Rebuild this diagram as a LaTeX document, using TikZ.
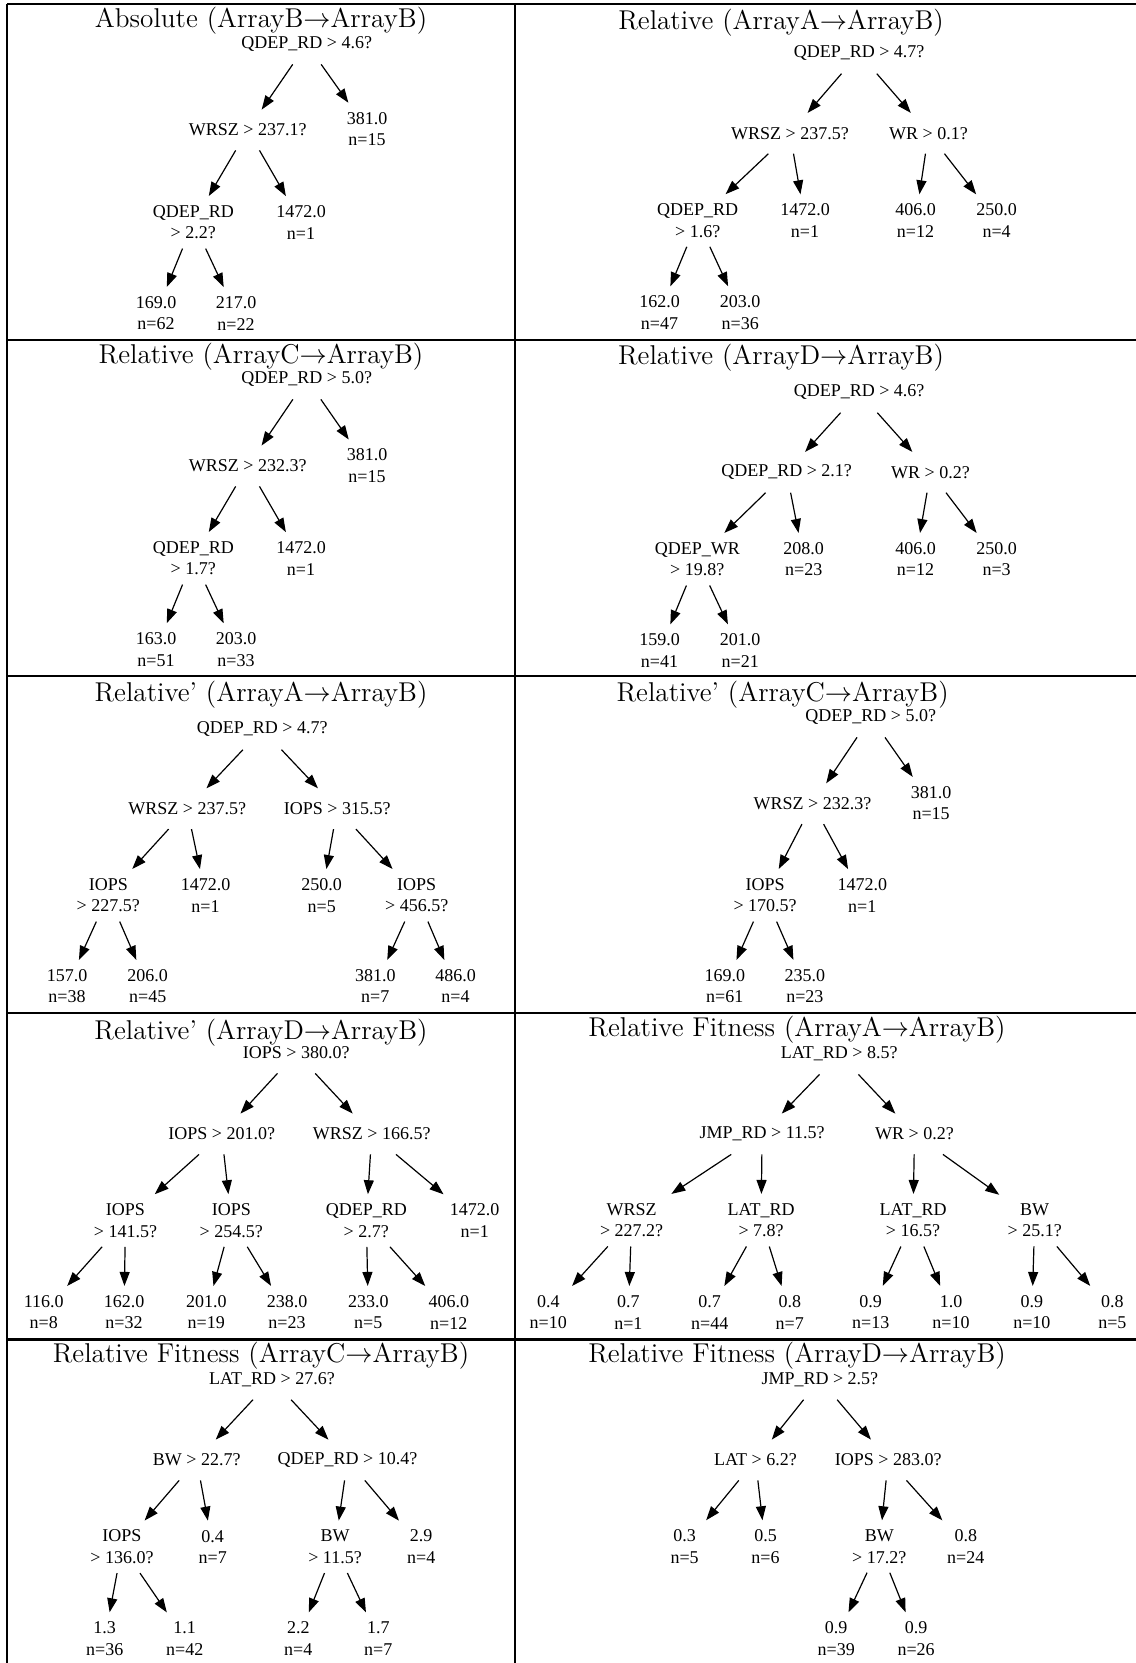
\RequirePackage{fix-cm}
\documentclass[tikz,border=0pt]{standalone}
\usepackage{fontspec}
\usetikzlibrary{arrows.meta}
\newfontfamily\treefont{Liberation Serif}

\tikzset{
  grid/.style={line width=1.1pt},
  ttl/.style={anchor=base, inner sep=0pt, font=\fontsize{13.6}{15.5}\selectfont},
  tn/.style={align=center, inner xsep=4pt, inner ysep=4.5pt, minimum height=20pt,
             font=\treefont\fontsize{9}{10.8}\selectfont},
  link/.style={-{Triangle[length=7pt,width=5pt]}, line width=0.6pt}
}

\begin{document}
\begin{tikzpicture}[x=0.5pt, y=-0.5pt]
\useasboundingbox (0,0) rectangle (1135,1663);

% table rules
\draw[grid] (6.8,4.2) -- (1136,4.2);
\draw[grid] (6.8,340) -- (1136,340);
\draw[grid] (6.8,676) -- (1136,676);
\draw[grid] (6.8,1013) -- (1136,1013);
\draw[grid] (6.8,1339.5) -- (1136,1339.5);
\draw[grid] (6.8,3.6) -- (6.8,1664);
\draw[grid] (514.6,3.6) -- (514.6,1664);

% ---- Absolute (ArrayB -> ArrayB)
\node[ttl] (t1) at (261,27.5) {Absolute (ArrayB$\rightarrow$ArrayB)};
\node[tn] (a0) at (306.7,44) {QDEP\_RD > 4.6?};
\node[tn] (a1) at (247.7,130) {WRSZ > 237.1?};
\node[tn] (a2) at (367,129) {381.0\\n=15};
\node[tn] (a3) at (193.3,222.3) {QDEP\_RD\\> 2.2?};
\node[tn] (a4) at (301,222.3) {1472.0\\n=1};
\node[tn] (a5) at (156,313.3) {169.0\\n=62};
\node[tn] (a6) at (236,313.3) {217.0\\n=22};
\foreach \p/\c in {a0/a1,a0/a2,a1/a3,a1/a4,a3/a5,a3/a6} \draw[link] (\p) -- (\c);

% ---- Relative (ArrayA -> ArrayB)
\node[ttl] (t2) at (781,30) {Relative (ArrayA$\rightarrow$ArrayB)};
\node[tn] (b0) at (859.1,53.3) {QDEP\_RD > 4.7?};
\node[tn] (b1) at (790,133.3) {WRSZ > 237.5?};
\node[tn] (b2) at (928.5,133.3) {WR > 0.1?};
\node[tn] (b3) at (697.7,220.5) {QDEP\_RD\\> 1.6?};
\node[tn] (b4) at (805,220.5) {1472.0\\n=1};
\node[tn] (b5) at (915.5,220.5) {406.0\\n=12};
\node[tn] (b6) at (996.6,220.5) {250.0\\n=4};
\node[tn] (b7) at (659.5,312.5) {162.0\\n=47};
\node[tn] (b8) at (740.2,312.5) {203.0\\n=36};
\foreach \p/\c in {b0/b1,b0/b2,b1/b3,b1/b4,b2/b5,b2/b6,b3/b7,b3/b8} \draw[link] (\p) -- (\c);

% ---- Relative (ArrayC -> ArrayB)
\node[ttl] (t3) at (261,363.3) {Relative (ArrayC$\rightarrow$ArrayB)};
\node[tn] (c0) at (306.7,379) {QDEP\_RD > 5.0?};
\node[tn] (c1) at (247.7,466) {WRSZ > 232.3?};
\node[tn] (c2) at (367,465.8) {381.0\\n=15};
\node[tn] (c3) at (193.3,558.3) {QDEP\_RD\\> 1.7?};
\node[tn] (c4) at (301,558.3) {1472.0\\n=1};
\node[tn] (c5) at (156,649.5) {163.0\\n=51};
\node[tn] (c6) at (236,649.5) {203.0\\n=33};
\foreach \p/\c in {c0/c1,c0/c2,c1/c3,c1/c4,c3/c5,c3/c6} \draw[link] (\p) -- (\c);

% ---- Relative (ArrayD -> ArrayB)
\node[ttl] (t4) at (781,364.3) {Relative (ArrayD$\rightarrow$ArrayB)};
\node[tn] (d0) at (859.1,392.3) {QDEP\_RD > 4.6?};
\node[tn] (d1) at (786.6,472.3) {QDEP\_RD > 2.1?};
\node[tn] (d2) at (930.5,472.3) {WR > 0.2?};
\node[tn] (d3) at (697.3,559.2) {QDEP\_WR\\> 19.8?};
\node[tn] (d4) at (803.7,559.2) {208.0\\n=23};
\node[tn] (d5) at (915.5,559.2) {406.0\\n=12};
\node[tn] (d6) at (996.6,559.2) {250.0\\n=3};
\node[tn] (d7) at (659.5,650.5) {159.0\\n=41};
\node[tn] (d8) at (740.2,650.5) {201.0\\n=21};
\foreach \p/\c in {d0/d1,d0/d2,d1/d3,d1/d4,d2/d5,d2/d6,d3/d7,d3/d8} \draw[link] (\p) -- (\c);

% ---- Relative' (ArrayA -> ArrayB)
\node[ttl] (t5) at (261,701.3) {Relative' (ArrayA$\rightarrow$ArrayB)};
\node[tn] (e0) at (262.2,729.3) {QDEP\_RD > 4.7?};
\node[tn] (e1) at (187.2,808.7) {WRSZ > 237.5?};
\node[tn] (e2) at (337.2,808.7) {IOPS > 315.5?};
\node[tn] (e3) at (108.3,895.3) {IOPS\\> 227.5?};
\node[tn] (e4) at (205.5,895.3) {1472.0\\n=1};
\node[tn] (e5) at (321.7,895.3) {250.0\\n=5};
\node[tn] (e6) at (416.7,895.3) {IOPS\\> 456.5?};
\node[tn] (e7) at (67,986.2) {157.0\\n=38};
\node[tn] (e8) at (147.7,986.2) {206.0\\n=45};
\node[tn] (e9) at (375.3,986.2) {381.0\\n=7};
\node[tn] (e10) at (455.5,986.2) {486.0\\n=4};
\foreach \p/\c in {e0/e1,e0/e2,e1/e3,e1/e4,e2/e5,e2/e6,e3/e7,e3/e8,e6/e9,e6/e10} \draw[link] (\p) -- (\c);

% ---- Relative' (ArrayC -> ArrayB)
\node[ttl] (t6) at (782.6,701.3) {Relative' (ArrayC$\rightarrow$ArrayB)};
\node[tn] (f0) at (870.7,717) {QDEP\_RD > 5.0?};
\node[tn] (f1) at (812.5,803.7) {WRSZ > 232.3?};
\node[tn] (f2) at (931.1,803.2) {381.0\\n=15};
\node[tn] (f3) at (765.1,895.3) {IOPS\\> 170.5?};
\node[tn] (f4) at (862.3,895.3) {1472.0\\n=1};
\node[tn] (f5) at (724.8,986.2) {169.0\\n=61};
\node[tn] (f6) at (804.9,986.2) {235.0\\n=23};
\foreach \p/\c in {f0/f1,f0/f2,f1/f3,f1/f4,f3/f5,f3/f6} \draw[link] (\p) -- (\c);

% ---- Relative' (ArrayD -> ArrayB)
\node[ttl] (t7) at (261,1039) {Relative' (ArrayD$\rightarrow$ArrayB)};
\node[tn] (g0) at (296.2,1053) {IOPS > 380.0?};
\node[tn] (g1) at (221.7,1134) {IOPS > 201.0?};
\node[tn] (g2) at (371.7,1134) {WRSZ > 166.5?};
\node[tn] (g3) at (125.5,1220.5) {IOPS\\> 141.5?};
\node[tn] (g4) at (231.3,1220.5) {IOPS\\> 254.5?};
\node[tn] (g5) at (366.3,1220.5) {QDEP\_RD\\> 2.7?};
\node[tn] (g6) at (474.7,1220.5) {1472.0\\n=1};
\node[tn] (g7) at (43.8,1312.2) {116.0\\n=8};
\node[tn] (g8) at (124,1312.2) {162.0\\n=32};
\node[tn] (g9) at (206.3,1312.2) {201.0\\n=19};
\node[tn] (g10) at (287,1312.2) {238.0\\n=23};
\node[tn] (g11) at (368.3,1312.2) {233.0\\n=5};
\node[tn] (g12) at (448.8,1312.2) {406.0\\n=12};
\foreach \p/\c in {g0/g1,g0/g2,g1/g3,g1/g4,g2/g5,g2/g6,g3/g7,g3/g8,g4/g9,g4/g10,g5/g11,g5/g12} \draw[link] (\p) -- (\c);

% ---- Relative Fitness (ArrayA -> ArrayB)
\node[ttl] (t8) at (797,1036.3) {Relative Fitness (ArrayA$\rightarrow$ArrayB)};
\node[tn] (h0) at (839.2,1054) {LAT\_RD > 8.5?};
\node[tn] (h1) at (762.1,1134) {JMP\_RD > 11.5?};
\node[tn] (h2) at (914.5,1134) {WR > 0.2?};
\node[tn] (h3) at (631.6,1220.2) {WRSZ\\> 227.2?};
\node[tn] (h4) at (761.1,1220.2) {LAT\_RD\\> 7.8?};
\node[tn] (h5) at (913,1220.2) {LAT\_RD\\> 16.5?};
\node[tn] (h6) at (1034.7,1220.2) {BW\\> 25.1?};
\node[tn] (h7) at (548.3,1312.2) {0.4\\n=10};
\node[tn] (h8) at (628.4,1312.2) {0.7\\n=1};
\node[tn] (h9) at (709.7,1312.2) {0.7\\n=44};
\node[tn] (h10) at (789.8,1312.2) {0.8\\n=7};
\node[tn] (h11) at (870.7,1312.2) {0.9\\n=13};
\node[tn] (h12) at (951,1312.2) {1.0\\n=10};
\node[tn] (h13) at (1031.9,1312.2) {0.9\\n=10};
\node[tn] (h14) at (1112.4,1312.2) {0.8\\n=5};
\foreach \p/\c in {h0/h1,h0/h2,h1/h3,h1/h4,h2/h5,h2/h6,h3/h7,h3/h8,h4/h9,h4/h10,h5/h11,h5/h12,h6/h13,h6/h14} \draw[link] (\p) -- (\c);

% ---- Relative Fitness (ArrayC -> ArrayB)
\node[ttl] (t9) at (261,1362.7) {Relative Fitness (ArrayC$\rightarrow$ArrayB)};
\node[tn] (i0) at (272,1379.3) {LAT\_RD > 27.6?};
\node[tn] (i1) at (196.7,1460) {BW > 22.7?};
\node[tn] (i2) at (347.5,1460) {QDEP\_RD > 10.4?};
\node[tn] (i3) at (122,1546.8) {IOPS\\> 136.0?};
\node[tn] (i4) at (212.7,1546.8) {0.4\\n=7};
\node[tn] (i5) at (335,1546.8) {BW\\> 11.5?};
\node[tn] (i6) at (421.2,1546.8) {2.9\\n=4};
\node[tn] (i7) at (104.7,1638.5) {1.3\\n=36};
\node[tn] (i8) at (184.7,1638.5) {1.1\\n=42};
\node[tn] (i9) at (298.3,1638.5) {2.2\\n=4};
\node[tn] (i10) at (378.3,1638.5) {1.7\\n=7};
\foreach \p/\c in {i0/i1,i0/i2,i1/i3,i1/i4,i2/i5,i2/i6,i3/i7,i3/i8,i5/i9,i5/i10} \draw[link] (\p) -- (\c);

% ---- Relative Fitness (ArrayD -> ArrayB)
\node[ttl] (t10) at (797,1362.7) {Relative Fitness (ArrayD$\rightarrow$ArrayB)};
\node[tn] (j0) at (819.9,1379.3) {JMP\_RD > 2.5?};
\node[tn] (j1) at (755.5,1460) {LAT > 6.2?};
\node[tn] (j2) at (888.2,1460) {IOPS > 283.0?};
\node[tn] (j3) at (684.6,1546.5) {0.3\\n=5};
\node[tn] (j4) at (765.5,1546.5) {0.5\\n=6};
\node[tn] (j5) at (879.3,1546.5) {BW\\> 17.2?};
\node[tn] (j6) at (965.8,1546.5) {0.8\\n=24};
\node[tn] (j7) at (836.2,1638.5) {0.9\\n=39};
\node[tn] (j8) at (916.1,1638.5) {0.9\\n=26};
\foreach \p/\c in {j0/j1,j0/j2,j1/j3,j1/j4,j2/j5,j2/j6,j5/j7,j5/j8} \draw[link] (\p) -- (\c);
\end{tikzpicture}
\end{document}
